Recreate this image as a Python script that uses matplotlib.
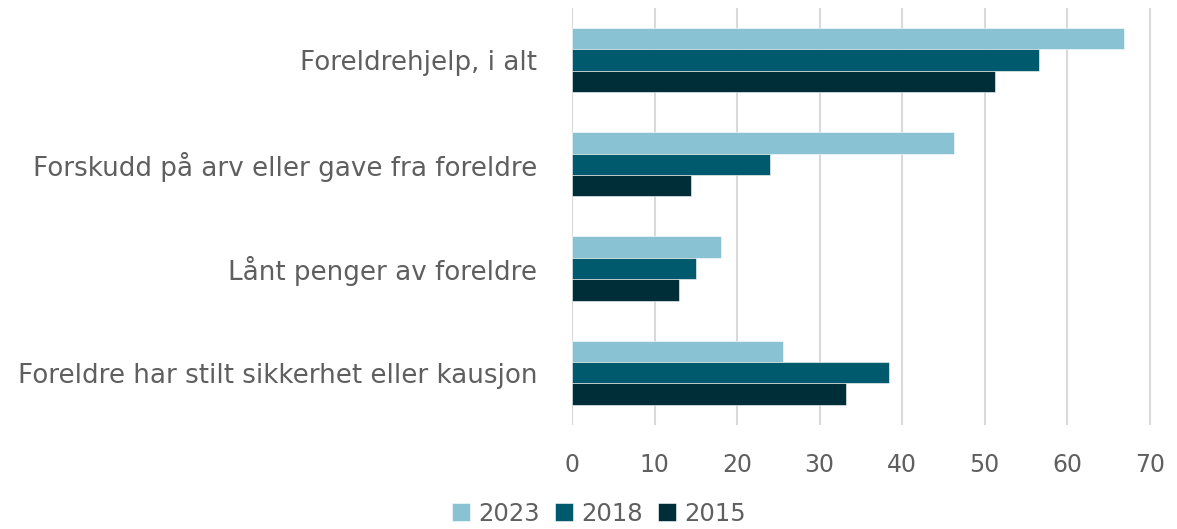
import matplotlib
matplotlib.use("Agg")
import matplotlib.pyplot as plt
import numpy as np

categories = ["Foreldrehjelp, i alt",
              "Forskudd på arv eller gave fra foreldre",
              "Lånt penger av foreldre",
              "Foreldre har stilt sikkerhet eller kausjon"]
series_names = ["2023", "2018", "2015"]
v2023 = [66.9, 46.3, 18.0, 25.6]
v2018 = [56.6, 24.0, 15.0, 38.4]
v2015 = [51.3, 14.4, 13.0, 33.2]
colors = ["#89c2d3", "#005a6e", "#002e38"]
xticks = [0, 10, 20, 30, 40, 50, 60, 70]

plt.rcParams['font.family'] = ['DejaVu Sans']
text_color = "#5f5f5f"

fig = plt.figure(figsize=(11.77, 5.29), dpi=100)
ax = fig.add_axes([0.486, 0.197, 0.493, 0.788])

y = np.arange(len(categories))
h = 0.205
for i, (vals, name) in enumerate(zip([v2023, v2018, v2015], series_names)):
    ax.barh(y + (i - 1) * h, vals, height=h, color=colors[i], label=name,
            edgecolor="white", linewidth=0.4, zorder=3)

ax.set_ylim(3.5, -0.5)
ax.set_xlim(0, 70.3)
ax.set_xticks(xticks)
ax.set_yticks(y)
ax.set_yticklabels(categories, fontsize=18.8, color=text_color)
ax.tick_params(axis='y', length=0, pad=25)
ax.tick_params(axis='x', length=0, pad=20, labelsize=17, labelcolor=text_color)
ax.grid(axis='x', color="#d9d9d9", linewidth=1.5, zorder=0)
for s in ax.spines.values():
    s.set_visible(False)

handles, labels = ax.get_legend_handles_labels()
fig.legend(handles, labels, loc='lower center', bbox_to_anchor=(0.509, -0.035),
           ncol=3, frameon=False, fontsize=17.5, handlelength=0.75, handleheight=0.75,
           handletextpad=0.35, columnspacing=0.6, labelcolor=text_color)

fig.savefig("out.png", dpi=100)
